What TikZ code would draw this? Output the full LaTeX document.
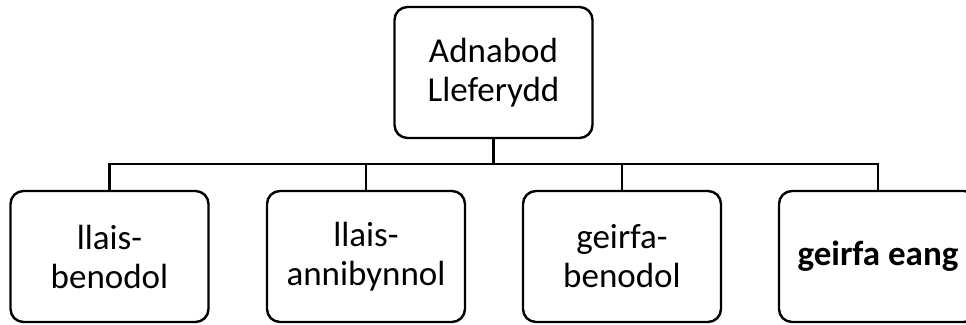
\documentclass[tikz,border=0pt]{standalone}
\usepackage{fontspec}
\setmainfont{Carlito}
\begin{document}
\begin{tikzpicture}[x=1pt,y=1pt,
  box/.style={draw, line width=2.4pt, rounded corners=13pt, minimum width=198pt, minimum height=131pt, inner sep=0pt, align=center, font=\fontsize{35}{39}\selectfont},
  conn/.style={line width=2.4pt}]
\clip (0,0) rectangle (966,324);
\useasboundingbox (0,0) rectangle (966,324);
\node[box] (top) at (493.5,251.5) {Adnabod\\Lleferydd};
\node[box] (b1) at (109.5,67.5) {llais-\\benodol};
\node[box] (b2) at (366,67.5) {llais-\\annibynnol};
\node[box] (b3) at (622,67.5) {geirfa-\\benodol};
\node[box, font=\fontsize{35}{39}\selectfont\bfseries] (b4) at (878,67.5) {geirfa eang};
\coordinate (bus) at (493.5,160);
\draw[conn] (top.south) -- (bus);
\draw[conn] (b1.north) |- (bus) -| (b4.north);
\draw[conn] (b2.north) -- (b2.north |- bus);
\draw[conn] (b3.north) -- (b3.north |- bus);
\end{tikzpicture}
\end{document}
